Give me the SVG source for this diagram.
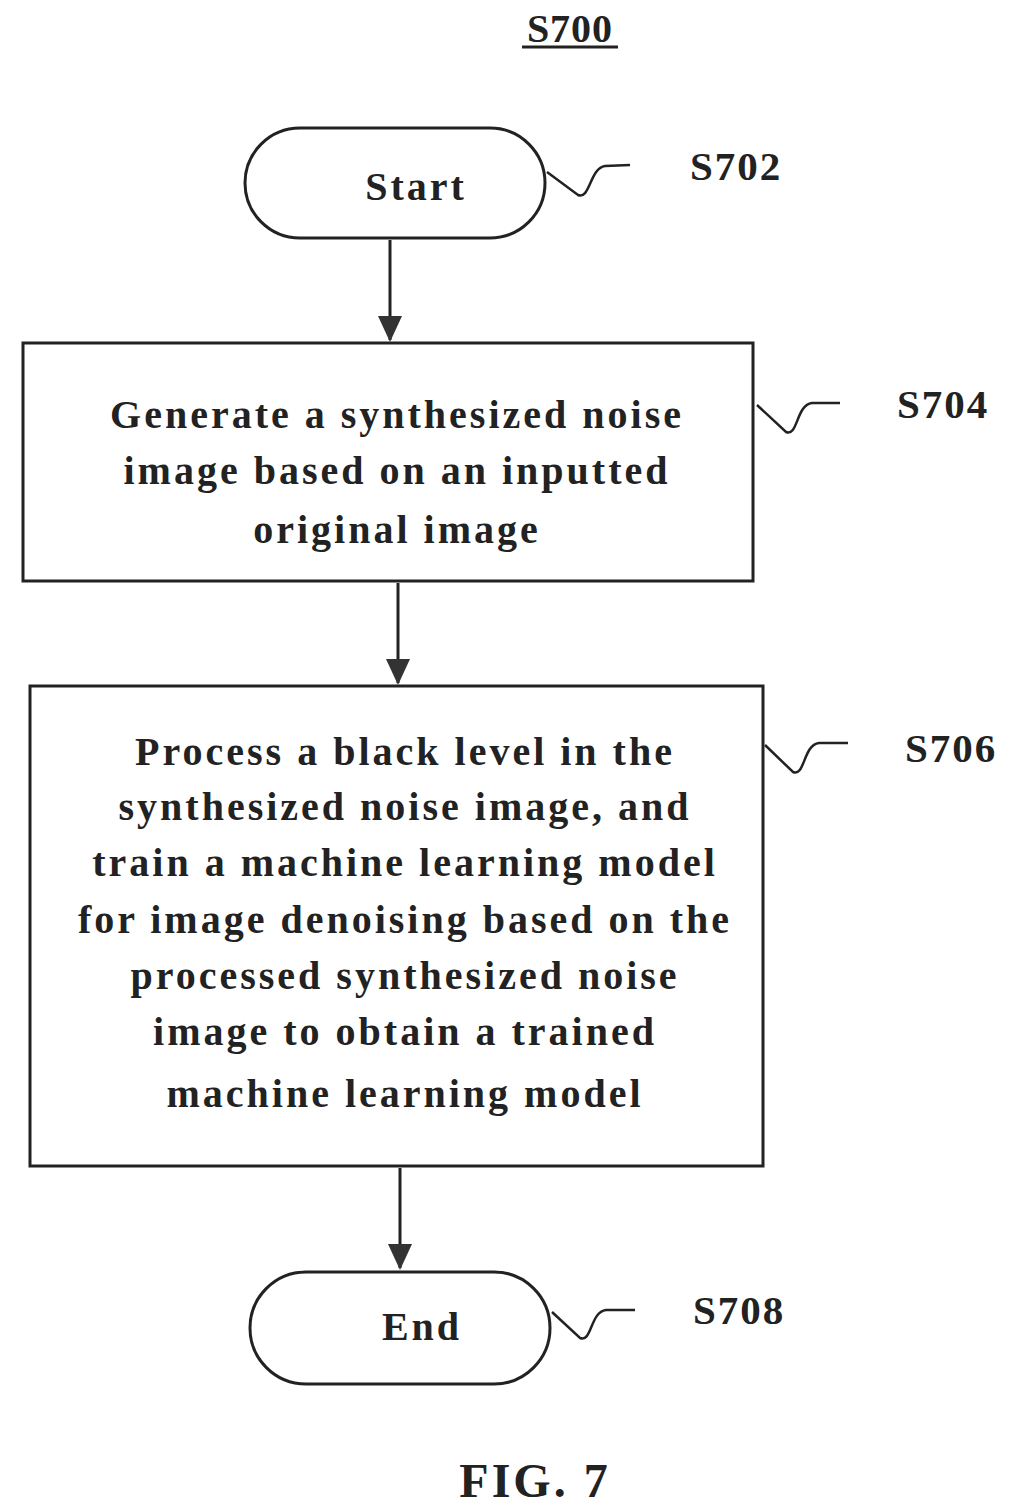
<svg xmlns="http://www.w3.org/2000/svg" width="1012" height="1511" viewBox="0 0 1012 1511">
<defs>
<style>
text{font-family:"Liberation Serif",serif;font-weight:bold;fill:#222}
.n{font-size:40px;text-anchor:middle;letter-spacing:3px}
.l{font-size:41px;letter-spacing:2px}
.s{fill:none;stroke:#222;stroke-width:3}
.w{fill:none;stroke:#222;stroke-width:2.5}
</style>
<marker id="b" markerWidth="30" markerHeight="30" refX="24" refY="15" orient="auto" markerUnits="userSpaceOnUse" viewBox="0 0 30 30"><path d="M0,3 L26,15 L0,27 z" fill="#333"/></marker>
</defs>
<rect width="1012" height="1511" fill="#fff"/>
<g id="title"><text x="570" y="42" class="n" style="letter-spacing:1px">S700</text><line x1="522" y1="47" x2="618" y2="47" stroke="#222" stroke-width="3"/></g>
<g id="connectors">
<line x1="390" y1="240" x2="390" y2="340" class="s" marker-end="url(#b)"/>
<line x1="398" y1="583" x2="398" y2="683" class="s" marker-end="url(#b)"/>
<line x1="400" y1="1168" x2="400" y2="1268" class="s" marker-end="url(#b)"/>
<path class="w" d="M547,172 L578,195 C590,200 590,168 605,166 L630,165"/>
<path class="w" d="M757,405 L786,432 C798,437 796,405 812,403 L840,403"/>
<path class="w" d="M765,745 L793,772 C805,777 803,745 819,743 L848,743"/>
<path class="w" d="M552,1312 L580,1338 C592,1343 590,1312 606,1310 L635,1310"/>
</g>
<g id="s702"><rect x="245" y="128" width="300" height="110" rx="55" class="s"/><text x="416" y="200" class="n">Start</text><text x="690" y="180" class="l">S702</text></g>
<g id="s704"><rect x="23" y="343" width="730" height="238" class="s"/>
<text class="n"><tspan x="397" y="428">Generate a synthesized noise</tspan><tspan x="397" y="484">image based on an inputted</tspan><tspan x="397" y="543">original image</tspan></text>
<text x="897" y="418" class="l">S704</text></g>
<g id="s706"><rect x="30" y="686" width="733" height="480" class="s"/>
<text class="n"><tspan x="405" y="765">Process a black level in the</tspan><tspan x="405" y="820">synthesized noise image, and</tspan><tspan x="405" y="876">train a machine learning model</tspan><tspan x="405" y="933">for image denoising based on the</tspan><tspan x="405" y="989">processed synthesized noise</tspan><tspan x="405" y="1045">image to obtain a trained</tspan><tspan x="405" y="1107">machine learning model</tspan></text>
<text x="905" y="762" class="l">S706</text></g>
<g id="s708"><rect x="250" y="1272" width="300" height="112" rx="56" class="s"/><text x="422" y="1340" class="n">End</text><text x="693" y="1324" class="l">S708</text></g>
<g id="fig"><text x="535" y="1497" style="font-size:48px;text-anchor:middle;letter-spacing:3px">FIG. 7</text></g>
</svg>
